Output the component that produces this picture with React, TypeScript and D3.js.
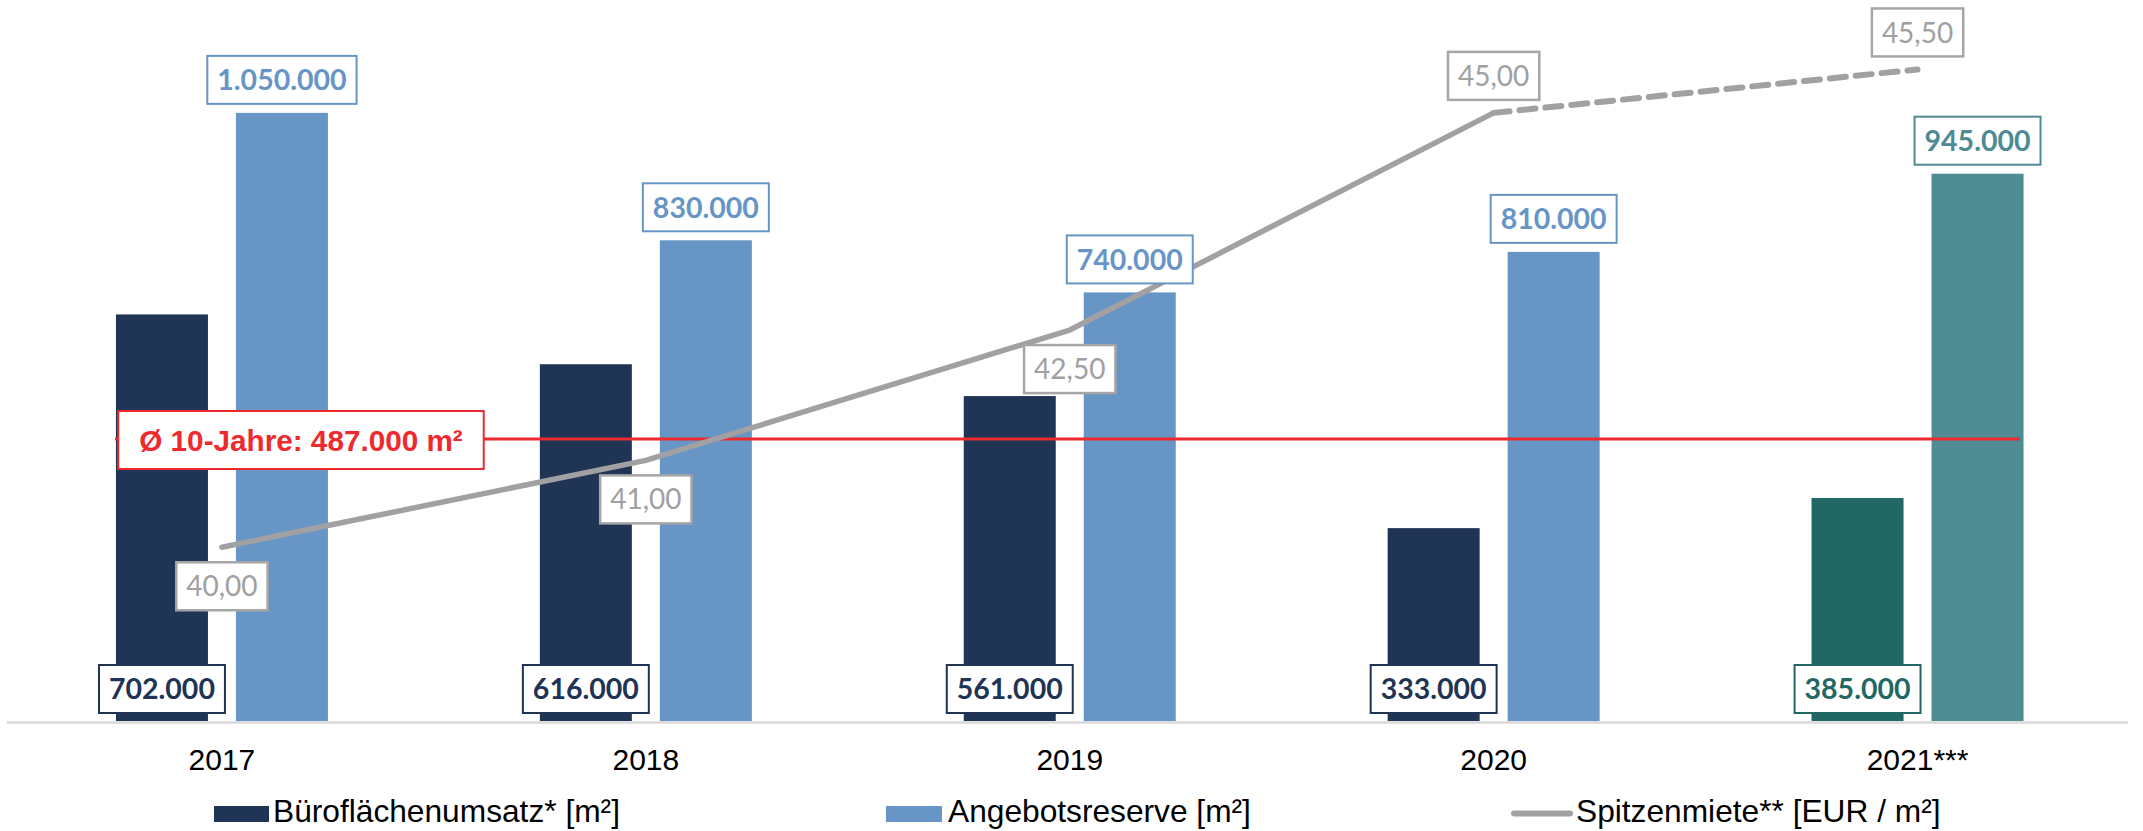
import React, { useEffect, useRef } from "react";
import * as d3 from "d3";

// ---- data ----
const years = ["2017", "2018", "2019", "2020", "2021***"];
const umsatz = [702000, 616000, 561000, 333000, 385000];
const angebot = [1050000, 830000, 740000, 810000, 945000];
const miete = [40.0, 41.0, 42.5, 45.0, 45.5];
const average = 487000;
const averageLabel = "Ø 10-Jahre: 487.000 m²";
const legendLabels = ["Büroflächenumsatz* [m²]", "Angebotsreserve [m²]", "Spitzenmiete** [EUR / m²]"];
const primaryDomain = [0, 1200000];
const secondaryDomain = [38, 46];

// ---- styles ----
const W = 2143;
const H = 831;
const darkColors = ["#203456", "#203456", "#203456", "#203456", "#216865"];
const lightColors = ["#6795c5", "#6795c5", "#6795c5", "#6795c5", "#508c94"];
const darkText = ["#1f3354", "#1f3354", "#1f3354", "#1f3354", "#216865"];
const lightText = ["#6795c5", "#6795c5", "#6795c5", "#6795c5", "#4e8a93"];
const lineColor = "#a1a1a4";
const red = "#ee2a2f";
const labelFont = "Lato, Carlito, 'Open Sans', sans-serif";
const axisFont = "'Liberation Sans', Arial, sans-serif";

const loc = d3.formatLocale({ decimal: ",", thousands: ".", grouping: [3], currency: ["", "€"] });
const fmtInt = loc.format(",.0f");
const fmtDec = loc.format(",.2f");

export default function App() {
  const ref = useRef<SVGSVGElement | null>(null);

  useEffect(() => {
    document.body.style.margin = "0";
    const svg = d3.select(ref.current);
    svg.selectAll("*").remove();

    const x0 = d3.scaleBand<string>().domain(years).range([10, 2129.5]).padding(0);
    const x1 = d3.scaleBand<string>().domain(["u", "a"]).range([-106, 106]).paddingInner(0.2333);
    const y = d3.scaleLinear().domain(primaryDomain).range([721, 26]);
    const y2 = d3.scaleLinear().domain(secondaryDomain).range([721, 26]);
    const cx = (yr: string) => (x0(yr) as number) + x0.bandwidth() / 2;

    // bars
    const gBars = svg.append("g");
    years.forEach((yr, i) => {
      gBars.append("rect")
        .attr("x", cx(yr) + (x1("u") as number))
        .attr("y", y(umsatz[i]))
        .attr("width", x1.bandwidth())
        .attr("height", y(0) - y(umsatz[i]))
        .attr("fill", darkColors[i]);
      gBars.append("rect")
        .attr("x", cx(yr) + (x1("a") as number))
        .attr("y", y(angebot[i]))
        .attr("width", x1.bandwidth())
        .attr("height", y(0) - y(angebot[i]))
        .attr("fill", lightColors[i]);
    });

    // axis line
    svg.append("line")
      .attr("x1", 7).attr("x2", 2128)
      .attr("y1", y(0) + 1.5).attr("y2", y(0) + 1.5)
      .attr("stroke", "#d9d9d9").attr("stroke-width", 2.5);

    // year labels
    years.forEach((yr) => {
      svg.append("text")
        .attr("x", cx(yr)).attr("y", 769.5)
        .attr("text-anchor", "middle")
        .attr("font-family", axisFont).attr("font-size", 30)
        .attr("fill", "#000").text(yr);
    });

    // average line
    svg.append("line")
      .attr("x1", 115).attr("x2", 2020)
      .attr("y1", y(average)).attr("y2", y(average))
      .attr("stroke", red).attr("stroke-width", 3);

    // rent line
    const line = d3.line<number>()
      .x((_, i) => cx(years[i]))
      .y((d) => y2(d));
    const solidIdx = [0, 1, 2, 3];
    svg.append("path")
      .attr("d", line.x((_, i) => cx(years[solidIdx[i]]))(solidIdx.map((i) => miete[i])) as string)
      .attr("fill", "none").attr("stroke", lineColor).attr("stroke-width", 5.5)
      .attr("stroke-linejoin", "round").attr("stroke-linecap", "round");
    const dashIdx = [3, 4];
    svg.append("path")
      .attr("d", line.x((_, i) => cx(years[dashIdx[i]]))(dashIdx.map((i) => miete[i])) as string)
      .attr("fill", "none").attr("stroke", lineColor).attr("stroke-width", 6)
      .attr("stroke-dasharray", "16 10").attr("stroke-linecap", "round");

    // label box helper
    const box = (centerX: number, top: number, text: string, color: string, textColor: string,
      weight: string, size: number, family: string, strokeW: number, pad = 10, h = 48) => {
      const g = svg.append("g");
      const r = g.append("rect");
      const t = g.append("text")
        .attr("x", centerX).attr("y", top + h / 2 + size * 0.36)
        .attr("text-anchor", "middle")
        .attr("font-family", family).attr("font-weight", weight)
        .attr("font-size", size).attr("fill", textColor).text(text);
      const tw = (t.node() as SVGTextElement).getComputedTextLength();
      r.attr("x", centerX - tw / 2 - pad).attr("y", top)
        .attr("width", tw + 2 * pad).attr("height", h)
        .attr("fill", "#fff").attr("stroke", color).attr("stroke-width", strokeW);
    };

    // red average label
    box(301, 411, averageLabel, red, red, "bold", 29.7, axisFont, 2, 21, 58);

    // rent labels
    miete.forEach((v, i) => {
      const px = cx(years[i]);
      const py = y2(v);
      const above = i >= 3;
      const top = above ? py - 13 - 48 : py + 15;
      box(px, top, fmtDec(v), "#a6a6a6", "#a0a0a0", "normal", 28, labelFont, 2.5);
    });

    // bar labels
    years.forEach((yr, i) => {
      box(cx(yr) + (x1("u") as number) + x1.bandwidth() / 2, 665, fmtInt(umsatz[i]),
        darkText[i], darkText[i], "bold", 28.5, labelFont, 2);
      box(cx(yr) + (x1("a") as number) + x1.bandwidth() / 2, y(angebot[i]) - 57, fmtInt(angebot[i]),
        lightText[i], lightText[i], "bold", 28.5, labelFont, 2);
    });

    // legend
    const lg = svg.append("g");
    lg.append("rect").attr("x", 214).attr("y", 806).attr("width", 55).attr("height", 16).attr("fill", darkColors[0]);
    lg.append("rect").attr("x", 886).attr("y", 806).attr("width", 56).attr("height", 16).attr("fill", lightColors[0]);
    lg.append("line").attr("x1", 1514).attr("x2", 1570).attr("y1", 813.5).attr("y2", 813.5)
      .attr("stroke", lineColor).attr("stroke-width", 6).attr("stroke-linecap", "round");
    const lx = [273, 948, 1576];
    legendLabels.forEach((l, i) => {
      lg.append("text").attr("x", lx[i]).attr("y", 822)
        .attr("font-family", axisFont).attr("font-size", 31.7)
        .attr("fill", "#000").text(l);
    });
  }, []);

  return (
    <svg
      ref={ref}
      width={W}
      height={H}
      style={{ position: "absolute", left: 0, top: 0, display: "block", background: "#fff" }}
    />
  );
}
